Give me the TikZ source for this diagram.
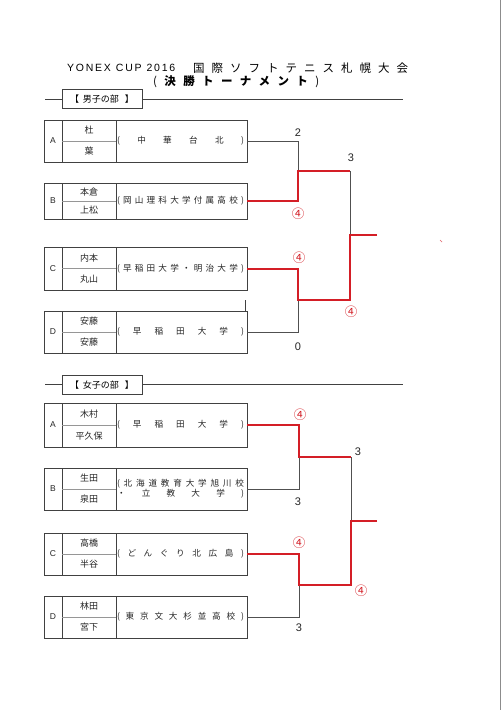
\documentclass[tikz,border=0pt]{standalone}
\usepackage{fontspec}
\setmainfont{Liberation Sans}
\newfontfamily\jp{Noto Sans CJK JP}
\definecolor{wred}{RGB}{212,30,38}
\definecolor{lgray}{RGB}{80,80,80}
\definecolor{bgray}{RGB}{65,65,65}
\definecolor{dgray}{RGB}{150,150,150}
\tikzset{
  tbox/.style={draw=bgray,line width=0.9pt,minimum width=203pt,inner sep=0pt},
  inner/.style={draw=bgray,line width=0.7pt},
  divl/.style={draw=dgray,line width=0.5pt},
  lett/.style={font=\fontsize{8.5}{9}\selectfont,inner sep=0pt,text=black!85},
  nm/.style={font=\jp\fontsize{9}{10}\selectfont,inner sep=0pt,text=black!85},
  sch/.style={font=\jp\fontsize{8.6}{10}\selectfont,inner sep=0pt,text=black!85,align=center},
  gl/.style={draw=lgray,line width=0.8pt},
  rl/.style={draw=wred,line width=2pt,line join=miter},
  score/.style={font=\fontsize{11}{12}\selectfont,inner sep=0pt,text=black!85},
  rscore/.style={font=\jp\fontsize{12.5}{13}\selectfont,inner sep=0pt,text=wred},
  hdr/.style={draw=bgray,line width=0.8pt,minimum width=80pt,minimum height=19pt,inner sep=0pt,fill=white,font=\jp\fontsize{9}{10}\selectfont},
  hline/.style={draw=bgray,line width=0.8pt}
}
\newcommand\teamrow[7]{%
  \node[tbox,minimum height=#3pt] (#1) at (145.5,#2) {};
  \draw[inner] (62,{#2-#3/2}) -- (62,{#2+#3/2});
  \draw[inner] (116,{#2-#3/2}) -- (116,{#2+#3/2});
  \draw[divl] (62,#2) -- (116,#2);
  \node[lett] (#1-l) at (53,#2) {#4};
  \node[nm] (#1-a) at (89,{#2-#3/4}) {#5};
  \node[nm] (#1-b) at (89,{#2+#3/4}) {#6};
  \node[sch] (#1-s) at (180.5,#2) {#7};
}
\newcommand\spreadsch[1]{\makebox[127pt][s]{#1}}
\begin{document}
\begin{tikzpicture}[x=1pt,y=-1pt]
\useasboundingbox (0,0) rectangle (502,710);
\fill[white] (0,0) rectangle (502,710);
% scan edge
\draw[draw=black!45,line width=0.8pt] (500.5,0) -- (500.5,710);
% title
\node[inner sep=0pt,anchor=west,font=\fontsize{10.5}{11}\selectfont] (t1) at (67,68)
  {\makebox[108pt][s]{Y\hfill O\hfill N\hfill E\hfill X\hfill\hfill\hfill C\hfill U\hfill P\hfill\hfill\hfill 2\hfill 0\hfill 1\hfill 6}};
\node[inner sep=0pt,anchor=west,font=\jp\fontsize{11.5}{12}\selectfont] (t2) at (193,68)
  {\makebox[215pt][s]{国\hfill 際\hfill ソ\hfill フ\hfill ト\hfill テ\hfill ニ\hfill ス\hfill 札\hfill 幌\hfill 大\hfill 会}};
\node[inner sep=0pt,anchor=west,font=\jp\fontsize{11.5}{12}\selectfont] (t3) at (153,82)
  {\makebox[166pt][s]{(\hfill{\bfseries 決\hfill 勝\hfill ト\hfill ー\hfill ナ\hfill メ\hfill ン\hfill ト}\hfill )}};
% men header
\coordinate (mh0) at (45,99);
\coordinate (mh1) at (403,99);
\draw[hline] (mh0) -- (mh1);
\node[hdr] (mh) at (102,99) {【\hspace{4pt}男子の部\hspace{6pt}】};
% men teams
\teamrow{mA}{141}{42}{A}{杜}{葉}{\spreadsch{(\hfill 中\hfill 華\hfill 台\hfill 北\hfill )}}
\teamrow{mB}{201}{36}{B}{本倉}{上松}{\spreadsch{(\hfill 岡\hfill 山\hfill 理\hfill 科\hfill 大\hfill 学\hfill 付\hfill 属\hfill 高\hfill 校\hfill )}}
\teamrow{mC}{268.5}{43}{C}{内本}{丸山}{\spreadsch{(\hfill 早\hfill 稲\hfill 田\hfill 大\hfill 学\hfill ・\hfill 明\hfill 治\hfill 大\hfill 学\hfill )}}
\teamrow{mD}{332}{42}{D}{安藤}{安藤}{\spreadsch{(\hfill 早\hfill 稲\hfill 田\hfill 大\hfill 学\hfill )}}
\coordinate (mx0) at (245.5,300);
\coordinate (mx1) at (245.5,311);
\draw[inner] (mx0) -- (mx1);
% men bracket
\coordinate (mAB) at (298,171);
\coordinate (mTop) at (350,171);
\coordinate (mFin) at (350,235);
\coordinate (mWin) at (377,235);
\coordinate (mBot) at (350,300);
\coordinate (mCD) at (298,300);
\draw[gl] (mA.east) -| (mAB);
\draw[gl] (mD.east) -| (mCD);
\draw[gl] (mTop) -- (mFin);
\draw[rl] (mB.east) -| (mAB) -- (mTop);
\draw[rl] (mWin) -- (mFin) -- (mBot) -- (mCD) |- (mC.east);
\node[score] (ms1) at (298,133) {2};
\node[rscore] (ms2) at (298,214) {④};
\node[score] (ms3) at (351,158) {3};
\node[rscore] (ms4) at (299,258) {④};
\node[rscore] (ms5) at (351,312) {④};
\node[score] (ms6) at (298,347) {0};
% stray mark
\coordinate (rd0) at (440,240);
\coordinate (rd1) at (442,242);
\draw[draw=wred!70,line width=0.7pt] (rd0) -- (rd1);
% women header
\coordinate (fh0) at (45,384);
\coordinate (fh1) at (403,384);
\draw[hline] (fh0) -- (fh1);
\node[hdr] (fh) at (102,385) {【\hspace{4pt}女子の部\hspace{6pt}】};
% women teams
\teamrow{fA}{425}{44}{A}{木村}{平久保}{\spreadsch{(\hfill 早\hfill 稲\hfill 田\hfill 大\hfill 学\hfill )}}
\teamrow{fB}{489}{42}{B}{生田}{泉田}{\spreadsch{(\hfill 北\hfill 海\hfill 道\hfill 教\hfill 育\hfill 大\hfill 学\hfill 旭\hfill 川\hfill 校}\\\spreadsch{・\hfill 立\hfill 教\hfill 大\hfill 学\hfill )}}
\teamrow{fC}{554}{42}{C}{高橋}{半谷}{\spreadsch{(\hfill ど\hfill ん\hfill ぐ\hfill り\hfill 北\hfill 広\hfill 島\hfill )}}
\teamrow{fD}{617}{42}{D}{林田}{宮下}{\spreadsch{(\hfill 東\hfill 京\hfill 文\hfill 大\hfill 杉\hfill 並\hfill 高\hfill 校\hfill )}}
% women bracket
\coordinate (fAB) at (299,457);
\coordinate (fTop) at (351,457);
\coordinate (fFin) at (351,521);
\coordinate (fWin) at (377,521);
\coordinate (fBot) at (351,585);
\coordinate (fCD) at (299,585);
\draw[gl] (fB.east) -| (fAB);
\draw[gl] (fD.east) -| (fCD);
\draw[gl] (fTop) -- (fFin);
\draw[rl] (fA.east) -| (fAB) -- (fTop);
\draw[rl] (fWin) -- (fFin) -- (fBot) -- (fCD) |- (fC.east);
\node[rscore] (fs1) at (300,415) {④};
\node[score] (fs2) at (298,502) {3};
\node[score] (fs3) at (358,452) {3};
\node[rscore] (fs4) at (299,543) {④};
\node[rscore] (fs5) at (361,591) {④};
\node[score] (fs6) at (299,628) {3};
\end{tikzpicture}
\end{document}
